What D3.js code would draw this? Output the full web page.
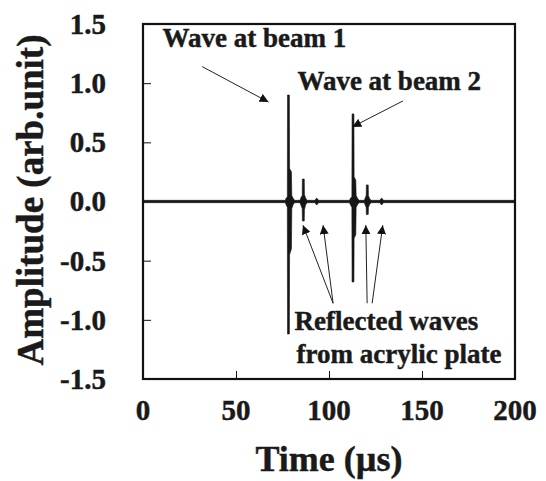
<!DOCTYPE html>
<html><head><meta charset="utf-8">
<script src="https://cdn.jsdelivr.net/npm/d3@7"></script>
<style>body{margin:0;background:#fff}svg{display:block}text{stroke:#1a1a1a;stroke-width:0.45px}</style>
</head><body>
<svg id="c" width="546" height="481"></svg>
<script>
const time  = [0, 76.5, 77.0, 77.6, 77.7, 78.7, 78.8, 79.8, 80.0, 80.8, 81.5,
               84.4, 85.0, 85.6, 85.7, 86.7, 86.8, 87.4, 88.2,
               92.4, 93.4, 94.4,
               111.0, 111.6, 112.3, 112.4, 113.4, 113.5, 114.4, 114.6, 115.4, 116.2,
               119.0, 119.6, 120.0, 120.1, 121.1, 121.2, 121.8, 122.6,
               127.3, 128.3, 129.3, 200];
const upper = [0.01, 0.01, 0.03, 0.04, 0.90, 0.90, 0.28, 0.25, 0.05, 0.025, 0.01,
               0.01, 0.035, 0.05, 0.19, 0.19, 0.06, 0.03, 0.01,
               0.01, 0.03, 0.01,
               0.01, 0.03, 0.04, 0.74, 0.74, 0.21, 0.18, 0.05, 0.025, 0.01,
               0.01, 0.035, 0.05, 0.14, 0.14, 0.05, 0.025, 0.01,
               0.01, 0.03, 0.01, 0.01];
const lower = [-0.01, -0.01, -0.03, -0.05, -1.12, -1.12, -0.45, -0.40, -0.06, -0.025, -0.01,
               -0.01, -0.035, -0.06, -0.165, -0.165, -0.07, -0.03, -0.01,
               -0.01, -0.03, -0.01,
               -0.01, -0.03, -0.05, -0.68, -0.68, -0.31, -0.28, -0.05, -0.025, -0.01,
               -0.01, -0.035, -0.05, -0.11, -0.11, -0.05, -0.025, -0.01,
               -0.01, -0.03, -0.01, -0.01];

const xTicks = [0, 50, 100, 150, 200];
const yTicks = [-1.5, -1.0, -0.5, 0.0, 0.5, 1.0, 1.5];
const yTickLabels = ["-1.5", "-1.0", "-0.5", "0.0", "0.5", "1.0", "1.5"];

// Annotations: label lines anchored in data units; arrows [from, to] in data units
const labels = [
  {lines: ["Wave at beam 1"], t: 10.5, a: 1.305},
  {lines: ["Wave at beam 2"], t: 83.0, a: 0.94},
  {lines: ["Reflected waves", "from acrylic plate"], t: 81.5, a: -1.09}
];
const arrows = [
  {from: [31.8, 1.14], to: [67.5, 0.84]},
  {from: [139.8, 0.85], to: [112.5, 0.63]},
  {from: [102.2, -0.86], to: [86.0, -0.20]},
  {from: [102.2, -0.86], to: [96.8, -0.20]},
  {from: [120.5, -0.86], to: [119.8, -0.20]},
  {from: [123.2, -0.86], to: [128.9, -0.20]}
];

const svg = d3.select("#c");
const m = {l: 143, r: 515, t: 24, b: 379};
const x = d3.scaleLinear().domain([0, 200]).range([m.l, m.r]);
const y = d3.scaleLinear().domain([-1.5, 1.5]).range([m.b, m.t]);
const serif = "'Liberation Serif','Times New Roman',serif";

// ticks (inward)
const gx = svg.append("g").attr("transform", `translate(0,${m.b})`)
  .call(d3.axisBottom(x).tickValues(xTicks.slice(1, -1)).tickSize(-8).tickFormat(""));
const gy = svg.append("g").attr("transform", `translate(${m.l},0)`)
  .call(d3.axisLeft(y).tickValues(yTicks.filter(v => Math.abs(v) < 1.4 && v !== 0)).tickSize(-8).tickFormat(""));
[gx, gy].forEach(g => { g.select(".domain").remove(); g.selectAll("line").attr("stroke", "#111").attr("stroke-width", 1); });

// tick labels
svg.append("g").selectAll("text").data(xTicks).join("text")
  .attr("x", d => x(d)).attr("y", 420).attr("text-anchor", "middle")
  .attr("font-family", serif).attr("font-weight", "bold").attr("font-size", 29).attr("fill", "#1a1a1a")
  .text(d => d);
svg.append("g").selectAll("text").data(yTicks).join("text")
  .attr("x", 106).attr("y", d => y(d)).attr("dy", "0.34em").attr("text-anchor", "end")
  .attr("font-family", serif).attr("font-weight", "bold").attr("font-size", 29).attr("fill", "#1a1a1a")
  .text((d, i) => yTickLabels[i]);

// axis titles
svg.append("text").attr("x", (m.l + m.r) / 2).attr("y", 471).attr("text-anchor", "middle")
  .attr("font-family", serif).attr("font-weight", "bold").attr("font-size", 36).attr("fill", "#1a1a1a")
  .text("Time (µs)");
svg.append("text").attr("transform", `translate(43,200) rotate(-90)`).attr("text-anchor", "middle")
  .attr("font-family", serif).attr("font-weight", "bold").attr("font-size", 37).attr("fill", "#1a1a1a")
  .text("Amplitude (arb.unit)");

// waveform
const pts = time.map((t, i) => ({t, u: upper[i], l: lower[i]}));
svg.append("path").datum(pts)
  .attr("d", d3.area().x(d => x(d.t)).y0(d => y(d.l)).y1(d => y(d.u)))
  .attr("fill", "#161616").attr("stroke", "#161616").attr("stroke-width", 0.6);

// frame
svg.append("rect").attr("x", m.l).attr("y", m.t).attr("width", m.r - m.l).attr("height", m.b - m.t)
  .attr("fill", "none").attr("stroke", "#111").attr("stroke-width", 2.2);

// annotations
labels.forEach(L => {
  const tx = svg.append("text").attr("x", x(L.t)).attr("y", y(L.a))
    .attr("font-family", serif).attr("font-weight", "bold").attr("font-size", 27).attr("fill", "#1a1a1a");
  L.lines.forEach((s, i) => tx.append("tspan").attr("x", x(L.t) + (i ? 2 : 0)).attr("dy", i ? 33 : 0).text(s));
});
svg.append("defs").append("marker").attr("id", "ah").attr("viewBox", "0 0 10 10")
  .attr("refX", 10).attr("refY", 5).attr("markerWidth", 9).attr("markerHeight", 9)
  .attr("markerUnits", "userSpaceOnUse").attr("orient", "auto")
  .append("path").attr("d", "M0,0L10,5L0,10Z").attr("fill", "#111");
svg.append("g").selectAll("line").data(arrows).join("line")
  .attr("x1", d => x(d.from[0])).attr("y1", d => y(d.from[1]))
  .attr("x2", d => x(d.to[0])).attr("y2", d => y(d.to[1]))
  .attr("stroke", "#222").attr("stroke-width", 1).attr("marker-end", "url(#ah)");
</script>
</body></html>
